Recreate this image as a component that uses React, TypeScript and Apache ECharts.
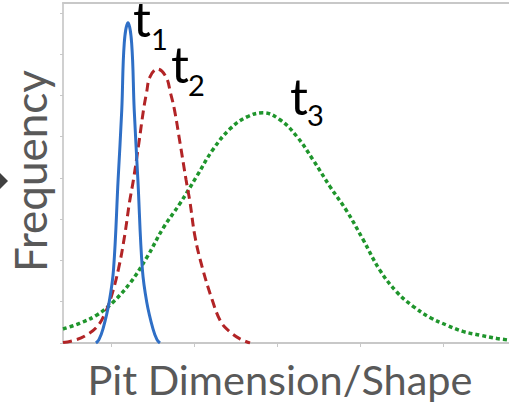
import React, { useEffect, useRef } from "react";
import * as echarts from "echarts";

// x in arbitrary "dimension" units, y in frequency units
const t1X = [8.19, 8.55, 9.04, 9.78, 10.31, 10.86, 11.3, 11.6, 12.05, 12.49, 12.8, 13.24, 13.78, 14.31, 15.06, 15.54, 15.9];
const t1Y = [0, 0.08, 0.34, 0.99, 1.79, 3.96, 5.65, 7.27, 7.76, 7.27, 5.65, 3.96, 1.79, 0.99, 0.34, 0.08, 0];

const t2X = [4.22, 5.66, 6.87, 8.31, 9.28, 10.06, 10.9, 11.63, 12.23, 12.71, 13.37, 13.92, 14.28, 14.7, 15.6, 16.63, 17.17, 17.65, 18.31, 19.04, 19.52, 20.12, 20.96, 22.17, 23.25, 24.34, 25.54, 26.75];
const t2Y = [0.01, 0.07, 0.17, 0.39, 0.72, 1.14, 1.79, 2.58, 3.41, 3.96, 4.86, 5.65, 6.06, 6.45, 6.64, 6.45, 6.06, 5.65, 4.86, 3.96, 3.41, 2.58, 1.86, 1.06, 0.51, 0.27, 0.1, 0];

const t3X = [4.22, 6.27, 8.31, 10.24, 12.29, 14.34, 16.27, 18.31, 20.36, 22.29, 24.34, 26.39, 28.31, 30.36, 32.41, 34.34, 36.39, 38.43, 40.36, 42.41, 44.46, 46.39, 48.43, 50.48, 52.41, 54.46, 56.51, 57.95];
const t3Y = [0.34, 0.48, 0.68, 0.99, 1.45, 2.08, 2.78, 3.38, 4.05, 4.69, 5.19, 5.48, 5.58, 5.41, 5.0, 4.44, 3.79, 3.19, 2.51, 1.76, 1.23, 0.89, 0.62, 0.43, 0.28, 0.19, 0.11, 0.07];

const xTickValues = [10, 20, 30, 40, 50];
const yTickValues = [0, 1, 2, 3, 4, 5, 6, 7, 8];
const xMin = 4.22;
const xMax = 57.95;
const yMax = 8.24;

const xTitle = "Pit Dimension/Shape";
const yTitle = "Frequency";
const curveLabels = ["1", "2", "3"];

const zip = (xs: number[], ys: number[]) => xs.map((x, i) => [x, ys[i]]);

export default function App() {
  const ref = useRef<HTMLDivElement>(null);
  useEffect(() => {
    document.body.style.margin = "0";
    const chart = echarts.init(ref.current!, undefined, { renderer: "svg" });
    const axisGray = "#c8c8c8";
    const textGray = "#595959";
    const font = "Lato";
    // [t x, t center y, subscript x, subscript center y]
    const labelPos = [
      [133, 18, 151, 38],
      [171, 64, 188, 84.5],
      [290, 96, 307, 114.5],
    ];
    const labelGraphics: any[] = [];
    curveLabels.forEach((n, i) => {
      const p = labelPos[i];
      labelGraphics.push({
        type: "text",
        x: p[0],
        y: p[1],
        style: { text: "t", font: `50px ${font}`, fill: "#000", verticalAlign: "middle", lineHeight: 26 },
      });
      labelGraphics.push({
        type: "text",
        x: p[2],
        y: p[3],
        style: { text: n, font: `29px ${font}`, fill: "#000", verticalAlign: "middle", lineHeight: 14 },
      });
    });
    chart.setOption({
      animation: false,
      backgroundColor: "#ffffff",
      grid: { left: 63, right: 0, top: 3, bottom: 61 },
      xAxis: [
        {
          type: "value",
          min: xMin,
          max: xMax,
          name: xTitle,
          nameLocation: "middle",
          nameGap: 15,
          nameTextStyle: { fontFamily: font, fontSize: 41.5, color: textGray, padding: [0, 12, 0, 0] },
          axisLine: { show: true, lineStyle: { color: axisGray, width: 2 } },
          axisTick: { show: true, length: 4, customValues: xTickValues, lineStyle: { color: axisGray } },
          axisLabel: { show: false },
          splitLine: { show: false },
        },
        {
          type: "value",
          position: "top",
          min: xMin,
          max: xMax,
          axisLine: { show: true, lineStyle: { color: axisGray, width: 2 } },
          axisTick: { show: false },
          axisLabel: { show: false },
          splitLine: { show: false },
        },
      ],
      yAxis: {
        type: "value",
        min: 0,
        max: yMax,
        name: yTitle,
        nameLocation: "middle",
        nameGap: 11,
        nameTextStyle: { fontFamily: font, fontSize: 44, color: textGray, padding: [0, 0, 0, 4] },
        axisLine: { show: true, lineStyle: { color: "#d0d0d0", width: 2 } },
        axisTick: { show: true, length: 3, customValues: yTickValues, lineStyle: { color: axisGray } },
        axisLabel: { show: false },
        splitLine: { show: false },
      },
      series: [
        {
          type: "line",
          data: zip(t3X, t3Y),
          smooth: 0.4,
          symbol: "none",
          lineStyle: { color: "#1f952c", width: 3.5, type: [4, 3] },
        },
        {
          type: "line",
          data: zip(t2X, t2Y),
          smooth: 0.4,
          symbol: "none",
          lineStyle: { color: "#b22426", width: 3, type: [9, 5] },
        },
        {
          type: "line",
          data: zip(t1X, t1Y),
          smooth: 0.4,
          symbol: "none",
          lineStyle: { color: "#2f6fc6", width: 3 },
        },
      ],
      graphic: [
        ...labelGraphics,
        {
          type: "polygon",
          shape: { points: [[-8, 181], [0, 173], [8, 181], [0, 189]] },
          style: { fill: "#404040" },
        },
      ],
    });
    return () => chart.dispose();
  }, []);
  return <div ref={ref} style={{ width: 509, height: 405 }} />;
}
